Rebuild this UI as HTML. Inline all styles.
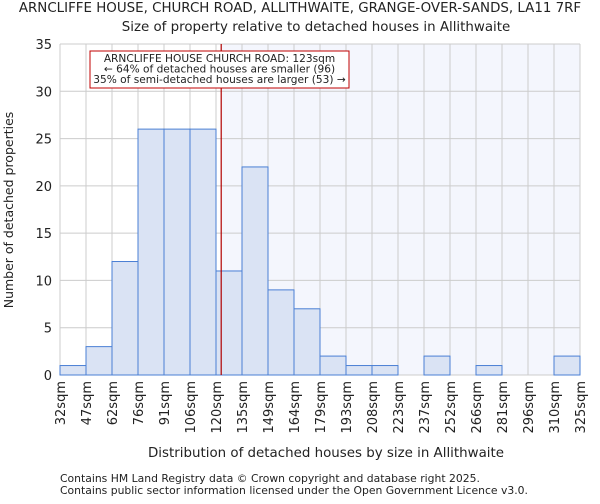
<!DOCTYPE html>
<html><head><meta charset="utf-8"><style>
body{margin:0;background:#fff;font-family:"DejaVu Sans","Liberation Sans",sans-serif;}
svg text{font-family:"DejaVu Sans","Liberation Sans",sans-serif;fill:#222;}
</style></head><body>
<svg id="c" width="600" height="500">
<text x="300" y="12" font-size="13.4" text-anchor="middle">ARNCLIFFE HOUSE, CHURCH ROAD, ALLITHWAITE, GRANGE-OVER-SANDS, LA11 7RF</text>
<text x="316" y="31" font-size="13.4" text-anchor="middle">Size of property relative to detached houses in Allithwaite</text>
<g id="plot"></g>
<text x="326" y="457" font-size="13.4" text-anchor="middle">Distribution of detached houses by size in Allithwaite</text>
<text transform="translate(13,210) rotate(-90)" font-size="12.5" text-anchor="middle">Number of detached properties</text>
<text x="60" y="482" font-size="10.8">Contains HM Land Registry data © Crown copyright and database right 2025.</text>
<text x="60" y="494" font-size="10.8">Contains public sector information licensed under the Open Government Licence v3.0.</text>
</svg>
<script>
const categories=["32sqm","47sqm","62sqm","76sqm","91sqm","106sqm","120sqm","135sqm","149sqm","164sqm","179sqm","193sqm","208sqm","223sqm","237sqm","252sqm","266sqm","281sqm","296sqm","310sqm","325sqm"];
const counts=[1,3,12,26,26,26,11,22,9,7,2,1,1,0,2,0,1,0,0,2];
const yTicks=[0,5,10,15,20,25,30,35];
const marker=123, binStart=120, binEnd=135, markerBin=6;
const L=60,R=580,T=44,B=375,yMax=35;
const bw=(R-L)/counts.length;
const x=i=>L+i*bw;
const y=v=>B-(v/yMax)*(B-T);
const ns="http://www.w3.org/2000/svg";
const g=document.getElementById('plot');
function mk(t,a){const e=document.createElementNS(ns,t);for(const k in a)e.setAttribute(k,a[k]);g.appendChild(e);return e;}
const mx=x(markerBin)+bw*(marker-binStart)/(binEnd-binStart);
let e=mk('rect',{x:mx,y:T,width:R-mx,height:B-T,fill:'#f4f6fd'});


yTicks.forEach(v=>{
 let l=mk('line',{x1:L,x2:R,y1:y(v),y2:y(v),stroke:'#ccc','stroke-width':1});
 
 
 let t=mk('text',{x:L-8,y:y(v)+5,'font-size':13,'text-anchor':'end'});t.textContent=v;
 
 
});
categories.forEach((c,i)=>{
 let l=mk('line',{x1:x(i),x2:x(i),y1:T,y2:B,stroke:'#ccc','stroke-width':1});
 
 
 let t=mk('text',{transform:`translate(${x(i)+5},${B+6}) rotate(-90)`,'font-size':13,'text-anchor':'end'});t.textContent=c;
 
 
});
counts.forEach((v,i)=>{
 if(v<=0)return;
 let r=mk('rect',{x:x(i),y:y(v),width:bw,height:B-y(v),fill:'#dae3f4',stroke:'#4a7fd4','stroke-width':1});
 
 
});
e=mk('line',{x1:mx,x2:mx,y1:T,y2:B,stroke:'#b00000','stroke-width':1.2});


e=mk('rect',{x:90,y:51,width:259,height:37,fill:'#fff',stroke:'#c00000','stroke-width':1});


["ARNCLIFFE HOUSE CHURCH ROAD: 123sqm","← 64% of detached houses are smaller (96)","35% of semi-detached houses are larger (53) →"].forEach((s,i)=>{
 let t=mk('text',{x:219.5,y:62+i*10.5,'font-size':10.6,'text-anchor':'middle'});t.textContent=s;
 
 
});
</script>
</body></html>
